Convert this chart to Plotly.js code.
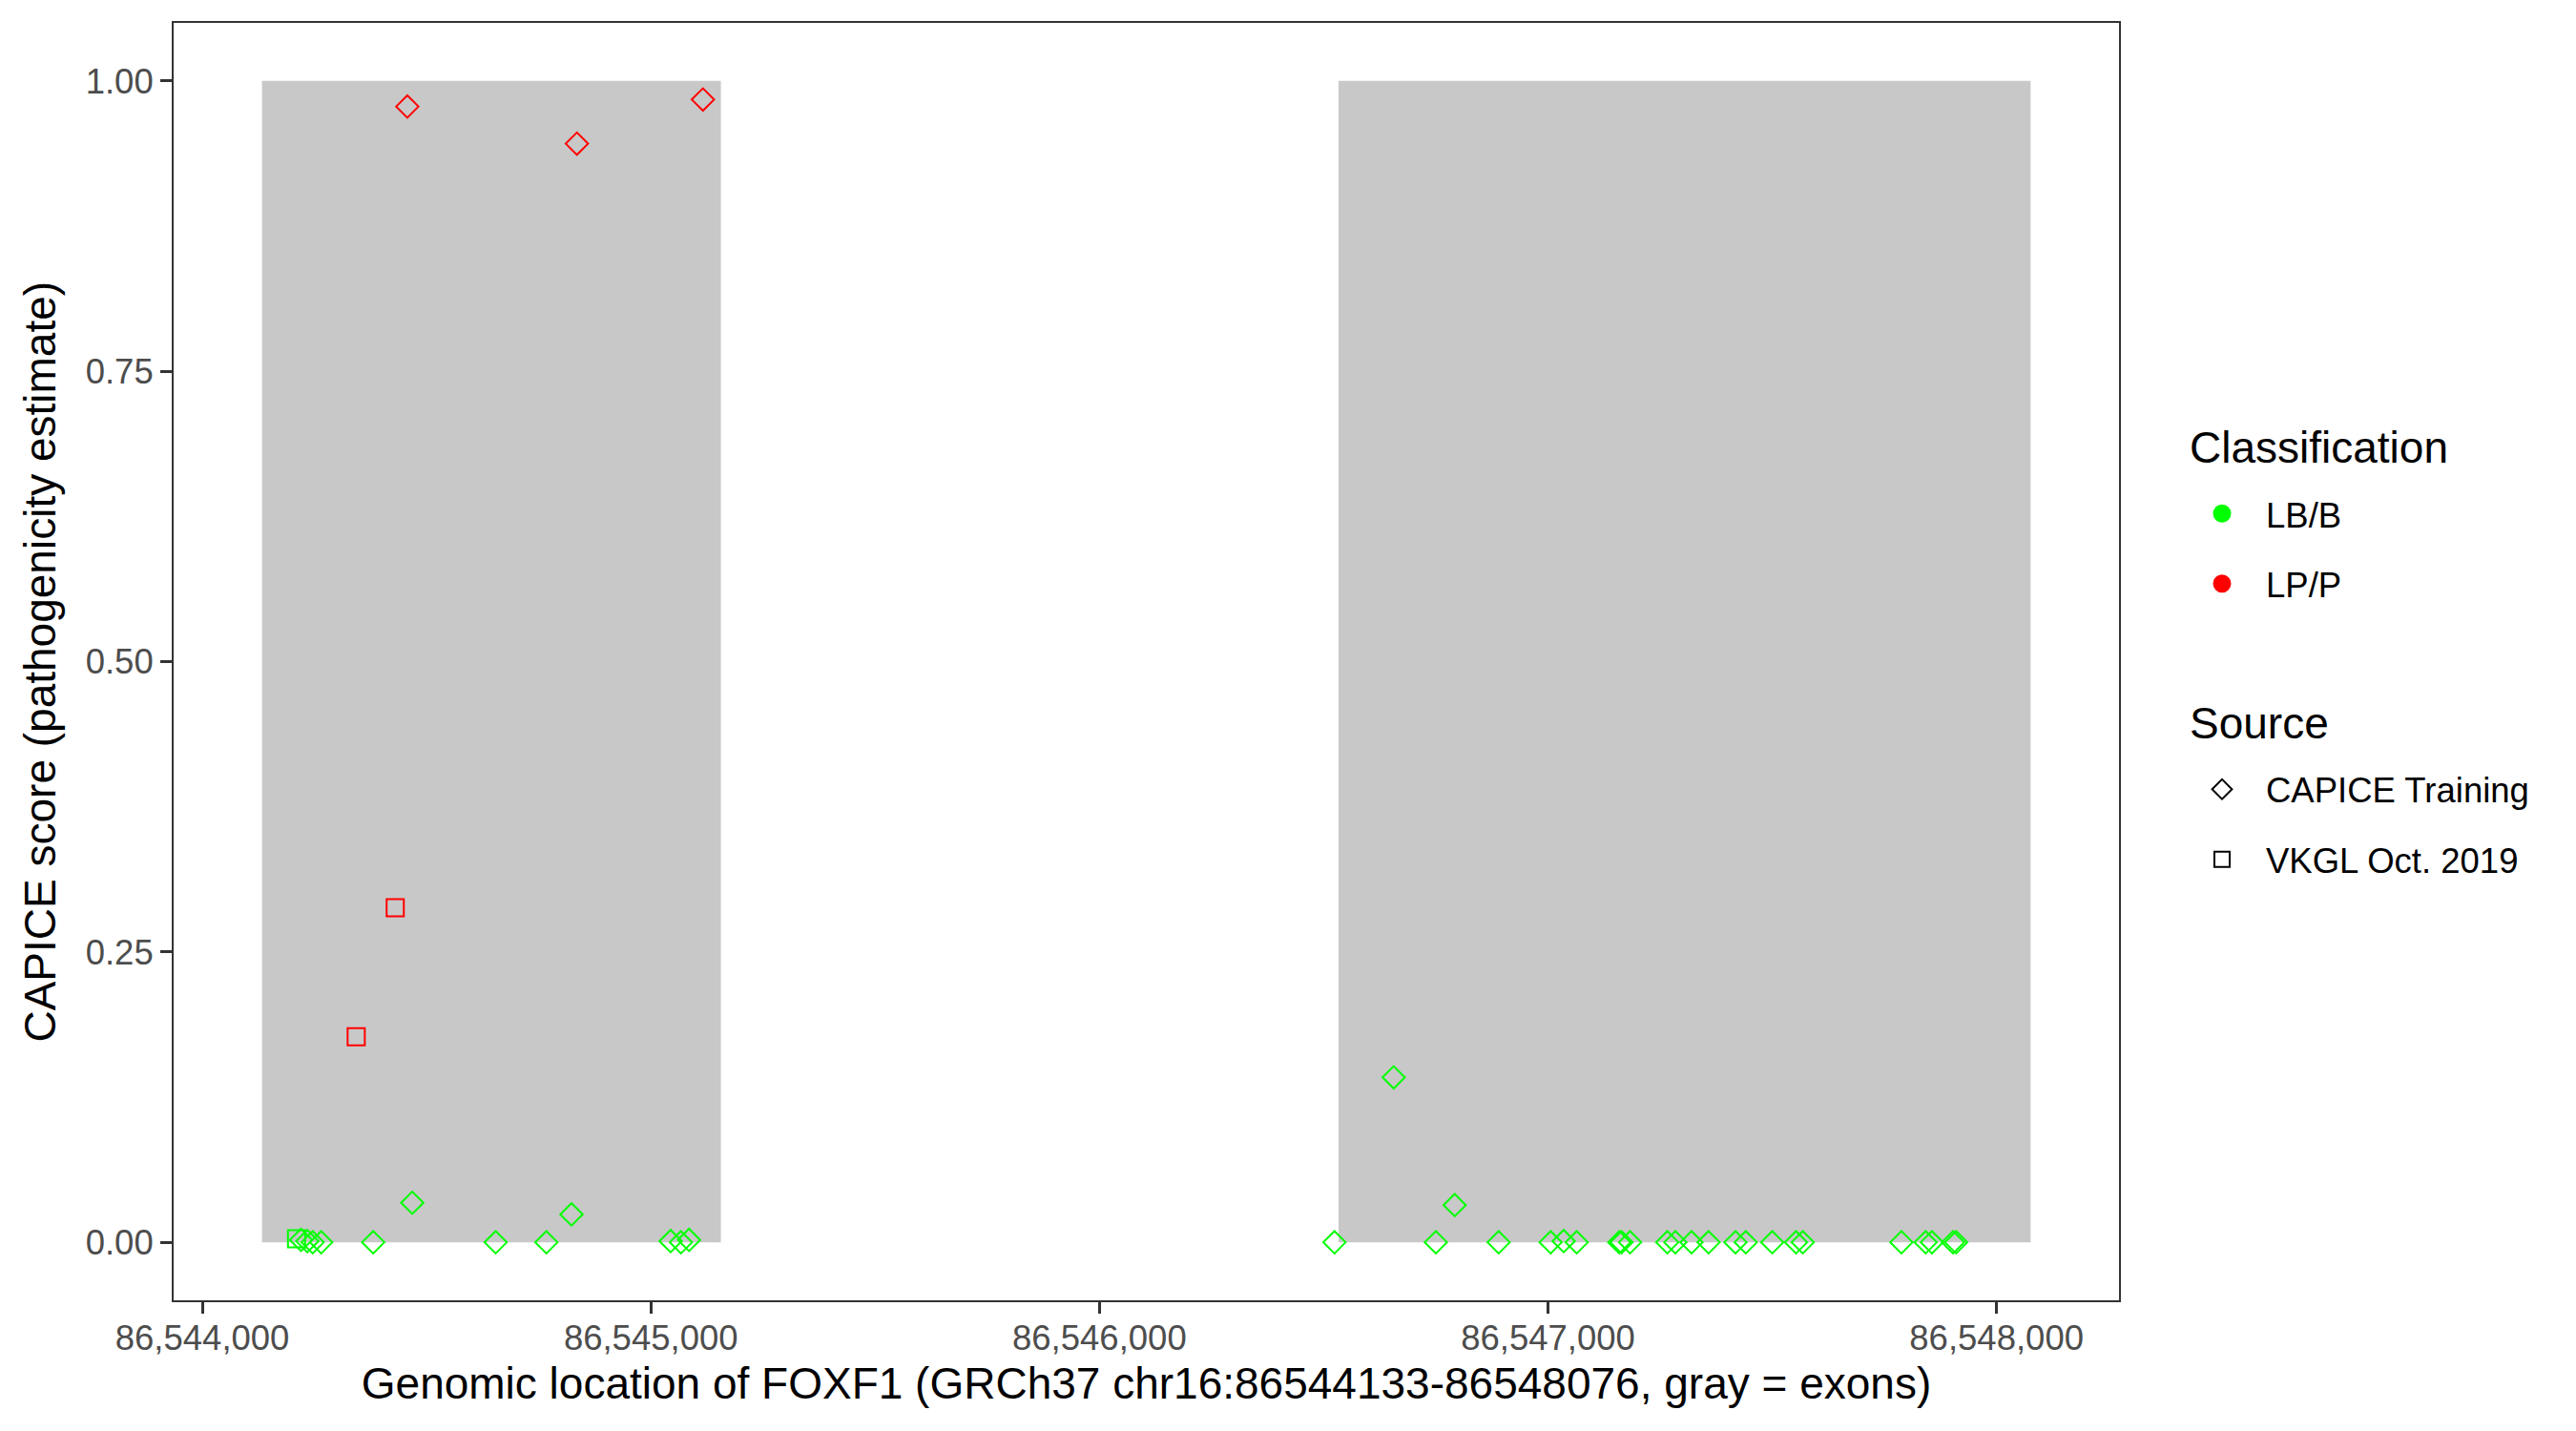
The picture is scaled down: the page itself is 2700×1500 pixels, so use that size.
<!DOCTYPE html>
<html>
<head>
<meta charset="utf-8">
<script src="https://cdn.plot.ly/plotly-3.0.1.min.js"></script>
<style>html,body{margin:0;padding:0;background:#fff;} #chart{width:2700px;height:1500px;}</style>
</head>
<body>
<div id="chart"></div>
<script>
// Variant genomic positions (GRCh37 chr16) and CAPICE scores
const positions = [
  86544457, 86544835, 86545116,
  86544343, 86544430,
  86544210,
  86544220, 86544234, 86544246, 86544265, 86544381, 86544468, 86544654, 86544767, 86544823, 86545044, 86545067, 86545085,
  86546524, 86546656, 86546750, 86546792, 86546890, 86547006, 86547035, 86547064, 86547159, 86547164, 86547183,
  86547266, 86547284, 86547320, 86547358, 86547418, 86547441, 86547500, 86547553, 86547568,
  86547788, 86547842, 86547856, 86547903, 86547910
];
const scores = [
  0.978, 0.946, 0.984,
  0.177, 0.288,
  0.003,
  0.002, 0.001, 0.000, 0.000, 0.000, 0.034, 0.000, 0.000, 0.024, 0.001, 0.000, 0.002,
  0.000, 0.142, 0.000, 0.032, 0.000, 0.000, 0.001, 0.000, 0.000, 0.000, 0.000,
  0.000, 0.000, 0.000, 0.000, 0.000, 0.000, 0.000, 0.000, 0.000,
  0.000, 0.000, 0.000, 0.000, 0.000
];
const classification = [
  "LP/P", "LP/P", "LP/P",
  "LP/P", "LP/P",
  "LB/B",
  "LB/B", "LB/B", "LB/B", "LB/B", "LB/B", "LB/B", "LB/B", "LB/B", "LB/B", "LB/B", "LB/B", "LB/B",
  "LB/B", "LB/B", "LB/B", "LB/B", "LB/B", "LB/B", "LB/B", "LB/B", "LB/B", "LB/B", "LB/B",
  "LB/B", "LB/B", "LB/B", "LB/B", "LB/B", "LB/B", "LB/B", "LB/B", "LB/B",
  "LB/B", "LB/B", "LB/B", "LB/B", "LB/B"
];
const source = [
  "CAPICE Training", "CAPICE Training", "CAPICE Training",
  "VKGL Oct. 2019", "VKGL Oct. 2019",
  "VKGL Oct. 2019",
  "CAPICE Training", "CAPICE Training", "CAPICE Training", "CAPICE Training", "CAPICE Training", "CAPICE Training", "CAPICE Training", "CAPICE Training", "CAPICE Training", "CAPICE Training", "CAPICE Training", "CAPICE Training",
  "CAPICE Training", "CAPICE Training", "CAPICE Training", "CAPICE Training", "CAPICE Training", "CAPICE Training", "CAPICE Training", "CAPICE Training", "CAPICE Training", "CAPICE Training", "CAPICE Training",
  "CAPICE Training", "CAPICE Training", "CAPICE Training", "CAPICE Training", "CAPICE Training", "CAPICE Training", "CAPICE Training", "CAPICE Training", "CAPICE Training",
  "CAPICE Training", "CAPICE Training", "CAPICE Training", "CAPICE Training", "CAPICE Training"
];
// Exons (gray rectangles)
const exonStarts = [86544133, 86546533];
const exonEnds = [86545156, 86548076];
const xTicks = [86544000, 86545000, 86546000, 86547000, 86548000];
const yTicks = [0, 0.25, 0.5, 0.75, 1];

const classLevels = ["LB/B", "LP/P"];
const classColors = {"LB/B": "#00FF00", "LP/P": "#FF0000"};
const sourceLevels = ["CAPICE Training", "VKGL Oct. 2019"];
const sourceSymbols = {"CAPICE Training": "diamond-open", "VKGL Oct. 2019": "square-open"};
const legendTitles = ["Classification", "Source"];
const xTitle = "Genomic location of FOXF1 (GRCh37 chr16:86544133-86548076, gray = exons)";
const yTitle = "CAPICE score (pathogenicity estimate)";

const FONT = "Liberation Sans, Arial, sans-serif";
const traces = [];
sourceLevels.forEach(s => {
  classLevels.forEach(c => {
    const xs = [], ys = [];
    positions.forEach((p, i) => {
      if (source[i] === s && classification[i] === c) { xs.push(p); ys.push(scores[i]); }
    });
    traces.push({
      type: "scatter", mode: "markers", x: xs, y: ys, showlegend: false, hoverinfo: "x+y",
      marker: {symbol: sourceSymbols[s], size: 18, color: classColors[c], line: {width: 2, color: classColors[c]}}
    });
  });
});
// Legend entries
classLevels.forEach(c => {
  traces.push({type: "scatter", mode: "markers", x: [null], y: [null], name: c, legend: "legend",
    legendgroup: c, marker: {symbol: "circle", size: 16, color: classColors[c], line: {width: 3, color: classColors[c]}}});
});
sourceLevels.forEach(s => {
  traces.push({type: "scatter", mode: "markers", x: [null], y: [null], name: s, legend: "legend2",
    legendgroup: s, marker: {symbol: sourceSymbols[s], size: 16, color: "#000000", line: {width: 2, color: "#000000"}}});
});

const shapes = exonStarts.map((s, i) => ({
  type: "rect", xref: "x", yref: "y", x0: s, x1: exonEnds[i], y0: 0, y1: 1,
  fillcolor: "#C8C8C8", line: {width: 0}, layer: "below"
}));

const legendCommon = {
  xref: "paper", yref: "paper", xanchor: "left", yanchor: "top",
  font: {family: FONT, size: 36.5, color: "#000000"}, bgcolor: "rgba(0,0,0,0)",
  traceorder: "grouped", tracegroupgap: 23, itemwidth: 82
};

const titleY = [0.6677, 0.4519];
const annotations = legendTitles.map((t, i) => ({
  xref: "paper", yref: "paper", x: 1.03395, y: titleY[i], xanchor: "left", yanchor: "middle",
  text: t, showarrow: false, font: {family: FONT, size: 46, color: "#000000"}
}));
annotations.push({
  xref: "paper", yref: "paper", x: -0.0278, y: 0.5, xanchor: "center", yanchor: "middle",
  textangle: -90, text: yTitle, showarrow: false, font: {family: FONT, size: 46, color: "#000000"}
});

const layout = {
  width: 2700, height: 1500,
  margin: {l: 100, r: 479, t: 24, b: 137},
  paper_bgcolor: "#FFFFFF", plot_bgcolor: "#FFFFFF",
  font: {family: FONT, color: "#000000"},
  showlegend: true,
  xaxis: {
    domain: [0.03866, 1],
    range: [86543936, 86548273], autorange: false,
    tickvals: xTicks, tickformat: ",d",
    ticks: "outside", ticklen: 12, tickwidth: 3, tickcolor: "#333333",
    tickfont: {family: FONT, size: 36.5, color: "#4D4D4D"},
    ticklabelstandoff: -6,
    showgrid: false, zeroline: false,
    showline: true, mirror: true, linecolor: "#333333", linewidth: 2,
    title: {text: xTitle, font: {family: FONT, size: 46, color: "#000000"}, standoff: 12},
    automargin: false
  },
  yaxis: {
    range: [-0.05, 1.05], autorange: false,
    tickvals: yTicks, tickformat: ".2f",
    ticks: "outside", ticklen: 12, tickwidth: 3, tickcolor: "#333333",
    tickfont: {family: FONT, size: 36.5, color: "#4D4D4D"},
    showgrid: false, zeroline: false,
    showline: true, mirror: true, linecolor: "#333333", linewidth: 2,
    automargin: false
  },
  shapes: shapes,
  annotations: annotations,
  legend: Object.assign({}, legendCommon, {x: 1.02923, y: 0.6385}),
  legend2: Object.assign({}, legendCommon, {x: 1.02923, y: 0.4227})
};

Plotly.newPlot("chart", traces, layout, {displayModeBar: false, staticPlot: true});
</script>
</body>
</html>
